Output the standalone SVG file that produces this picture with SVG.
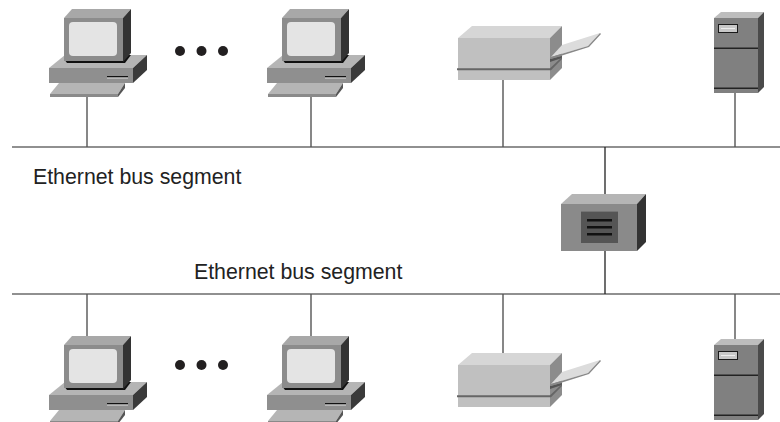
<svg xmlns="http://www.w3.org/2000/svg" width="780" height="422" viewBox="0 0 780 422">
<style>
.bus{stroke:#222;stroke-width:1.200;fill:none}
.drop{stroke:#555;stroke-width:1.400;fill:none}
.rdrop{stroke:#222;stroke-width:1.300;fill:none}
.t{font-family:"Liberation Sans",Arial,sans-serif;font-size:21.300px;fill:#222}
.k{fill:#221f20}
</style>
<defs>
<g id="pc">
<path fill="#b5b5b5" d="M49 68L65 55H147L133 68Z"/>
<path fill="#8f8f8f" d="M49 68H133V83H49Z"/>
<path fill="#3a3a3a" d="M133 68L147 55V70L133 83Z"/>
<path fill="#111" d="M64 59L67 63H125L131 55H64Z"/>
<path fill="#111" d="M107 76h21v1.500h-21z"/>
<path fill="#dcdcdc" d="M107 77.500h21v1h-21z"/>
<path fill="#a8a8a8" d="M64 18L72 9H131L123 18Z"/>
<path fill="#8c8c8c" d="M64 18H123V61H64Z"/>
<path fill="#333" d="M123 18L131 9V53L123 62Z"/>
<rect x="69" y="22" width="48" height="34" rx="4" fill="#e4e4e4"/>
<path fill="#b5b5b5" d="M50 94L59 83H125L118 94Z"/>
<path fill="#8a8a8a" d="M50 94H118V97H50Z"/>
<path fill="#555" d="M118 94L125 83V88L118 97Z"/>
</g>
<g id="printer">
<path fill="#d6d6d6" d="M458 38L472 26H562L550 38Z"/>
<path fill="#c0c0c0" d="M458 38H550V80H458Z"/>
<path fill="#8c8c8c" d="M550 38L562 26V68L550 80Z"/>
<path fill="#555" d="M550 59L562 56V58L550 62Z"/>
<path fill="#dcdcdc" d="M551 57L562 45L600 33L588 46Z"/>
<path fill="#888" d="M600 33L601 34L589 47L551 59V57L588 46Z"/>
<path fill="#666" d="M457 68.300H550L562 57V59L551 70.300H457Z"/>
</g>
<g id="server">
<path fill="#bdbdbd" d="M714 18L721 12H764L758 18Z"/>
<path fill="#808080" d="M714 18H758V93H714Z"/>
<path fill="#4a4a4a" d="M758 18L764 12V87L758 93Z"/>
<rect x="718.500" y="24.500" width="19" height="8" fill="#c8c8c8" stroke="#1a1a1a"/>
<path fill="#eee" d="M721 28h14v1h-14z"/>
<path fill="#222" d="M714 47.500h44v1.500h-44zM714 87.500h44v1.500h-44z"/>
</g>
</defs>
<g id="connectors">
<path class="bus" d="M12 147H780M12 294H780"/>
<path class="drop" d="M87 97V147M311 97V147M503 80V147M735 93V147"/>
<path class="rdrop" d="M605 147V194M605 251V294"/>
<path class="drop" d="M87 294V336M311 294V336M503 294V353M735 294V339"/>
</g>
<g id="pc1"><use href="#pc"/></g>
<g id="pc2"><use href="#pc" x="218"/></g>
<g id="printer1"><use href="#printer"/></g>
<g id="server1"><use href="#server"/></g>
<g id="pc3"><use href="#pc" y="327"/></g>
<g id="pc4"><use href="#pc" x="218" y="327"/></g>
<g id="printer2"><use href="#printer" y="327"/></g>
<g id="server2"><use href="#server" y="327"/></g>
<g id="router">
<path fill="#b5b5b5" d="M561 204L572 194H646L637 204Z"/>
<path fill="#8a8a8a" d="M561 204H637V251H561Z"/>
<path fill="#333" d="M637 204L646 194V242L637 251Z"/>
<rect x="581" y="211" width="37" height="32" fill="#555"/>
<path fill="#8a8a8a" d="M581 211h37v1h-37z" opacity=".6"/>
<path fill="#111" d="M587 219h25v2.500h-25zM587 226h25v2.500h-25zM587 233h25v2.500h-25z"/>
</g>
<g id="dots1" class="k"><circle cx="180" cy="51" r="5"/><circle cx="201.500" cy="51" r="5"/><circle cx="223" cy="51" r="5"/></g>
<g id="dots2" class="k"><circle cx="180" cy="365" r="5"/><circle cx="201.500" cy="365" r="5"/><circle cx="223" cy="365" r="5"/></g>
<text class="t" x="33" y="184">Ethernet bus segment</text>
<text class="t" x="194" y="279">Ethernet bus segment</text>
</svg>
